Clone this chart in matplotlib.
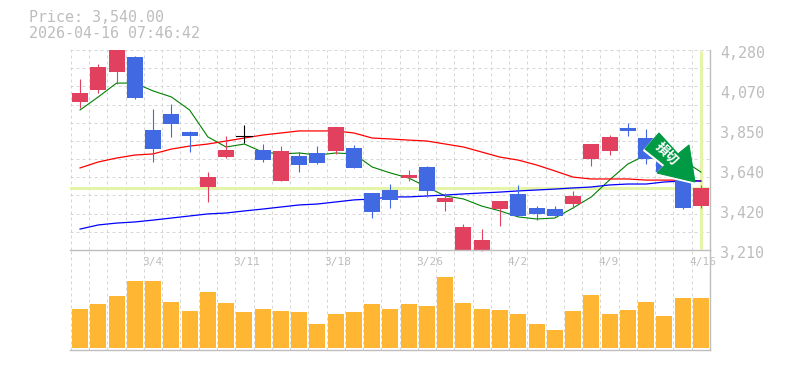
import matplotlib
matplotlib.use("Agg")
import matplotlib.pyplot as plt
from matplotlib.patches import Polygon, Rectangle

# ---- data ----
opens  = [4002, 4066, 4162, 4243, 3852, 3938, 3841, 3547, 3708, 3820, 3745, 3579, 3713, 3729, 3740, 3756, 3515, 3531, 3595, 3654, 3467, 3210, 3210, 3429, 3510, 3435, 3429, 3456, 3697, 3740, 3863, 3809, 3756, 3611, 3445]
highs  = [4125, 4205, 4280, 4248, 3964, 3991, 3847, 3627, 3820, 3879, 3777, 3766, 3734, 3766, 3868, 3772, 3515, 3563, 3638, 3659, 3515, 3349, 3322, 3472, 3558, 3445, 3445, 3526, 3777, 3825, 3889, 3857, 3800, 3638, 3558]
lows   = [3970, 4050, 4098, 4018, 3681, 3815, 3734, 3467, 3702, 3782, 3681, 3579, 3627, 3670, 3724, 3649, 3381, 3435, 3579, 3494, 3419, 3210, 3205, 3338, 3392, 3370, 3392, 3435, 3659, 3718, 3820, 3670, 3611, 3429, 3435]
closes = [4050, 4189, 4280, 4023, 3750, 3884, 3820, 3601, 3745, 3820, 3692, 3740, 3665, 3675, 3868, 3649, 3413, 3478, 3611, 3526, 3488, 3333, 3264, 3472, 3392, 3403, 3392, 3499, 3777, 3815, 3847, 3697, 3627, 3435, 3540]
ma_short = [3959, 4029, 4103, 4103, 4061, 4029, 3959, 3815, 3761, 3777, 3734, 3724, 3729, 3718, 3729, 3724, 3654, 3622, 3595, 3547, 3499, 3483, 3445, 3419, 3387, 3376, 3381, 3435, 3494, 3585, 3670, 3718, 3745, 3692, 3627]
ma_mid = [3649, 3681, 3702, 3718, 3724, 3750, 3766, 3777, 3793, 3809, 3825, 3836, 3847, 3847, 3847, 3836, 3809, 3804, 3798, 3793, 3777, 3761, 3734, 3707, 3691, 3665, 3633, 3600, 3590, 3590, 3590, 3584, 3584, 3584, 3579]
ma_long = [3322, 3344, 3354, 3360, 3370, 3381, 3392, 3403, 3408, 3419, 3429, 3440, 3451, 3456, 3467, 3478, 3483, 3494, 3494, 3499, 3504, 3510, 3515, 3520, 3526, 3531, 3536, 3542, 3547, 3558, 3563, 3563, 3574, 3579, 3579]
volumes = [39, 44, 52, 67, 67, 46, 37, 56, 45, 36, 39, 37, 36, 24, 34, 36, 44, 39, 44, 42, 71, 45, 39, 38, 34, 24, 18, 37, 53, 34, 38, 46, 32, 50, 50]
date_labels = ["3/4", "3/11", "3/18", "3/26", "4/2", "4/9", "4/16"]
date_slots = [4, 9, 14, 19, 24, 29, 34]
price_ticks = [4280, 4070, 3850, 3640, 3420, 3210]
last_price = 3540
title_lines = ["Price: 3,540.00", "2026-04-16 07:46:42"]
arrow_label = "損切"

W, H = 785, 370
RED, BLUE, ORANGE = "#E2405F", "#4169E1", "#FFB733"
GREY, GRID, HILITE = "#BDBDBD", "#D6D6D6", "#E4F5A9"
MONO = ["DejaVu Sans Mono", "Liberation Mono"]

fig = plt.figure(figsize=(W / 100, H / 100), dpi=100, facecolor="white")
def rect(l, t, r, b):
    return [l / W, 1 - b / H, (r - l) / W, (b - t) / H]

ax = fig.add_axes(rect(70, 50, 710, 250))
vx = fig.add_axes(rect(70, 250, 710, 350))
xmin, xmax = -0.55, 34.5
PX = (xmax - xmin) / 640
for a in (ax, vx):
    a.set_xlim(xmin, xmax)
    a.set_facecolor("none")
    a.set_xticks([])
    a.set_yticks([])
    for s in a.spines.values():
        s.set_visible(False)
ax.set_ylim(3210, 4280)
vx.set_ylim(-2, 98)

n = len(closes)
dash = (0, (3, 3))
for i in range(n + 1):
    for a in (ax, vx):
        a.axvline(i - 0.5, color=GRID, lw=0.72, ls=dash, zorder=0)
for k in range(12):
    ax.axhline(3210 + k * (4280 - 3210) / 11, color=GRID, lw=0.72, ls=dash, zorder=0)

ax.axhline(last_price, color=HILITE, lw=2.2, zorder=1)
ax.plot([n - 1, n - 1], [3216, 4275], color=HILITE, lw=2.2, zorder=1, solid_capstyle="butt")

xs = list(range(n))
ax.plot(xs, ma_short, color="green", lw=0.8, zorder=2)
ax.plot(xs, ma_mid, color="red", lw=0.9, zorder=2)
ax.plot(xs, ma_long, color="blue", lw=0.9, zorder=2)

body_w = 16 * PX
for i in range(n):
    o, h, l, c = opens[i], highs[i], lows[i], closes[i]
    col = RED if c > o else BLUE
    if abs(c - o) < 3:
        col = "black"
    ax.plot([i, i], [l, h], color=col, lw=0.8, zorder=3, solid_capstyle="butt", clip_on=False)
    if col == "black":
        ax.plot([i - 8 * PX, i + 8 * PX], [c, c], color=col, lw=0.8, zorder=3)
    else:
        ax.add_patch(Rectangle((i - body_w / 2, min(o, c)), body_w, abs(c - o), color=col, lw=0, zorder=3))

vx.bar(xs, volumes, width=body_w, color=ORANGE, lw=0, zorder=2)

# frame
ax.plot([xmin, xmax], [3210, 3210], color=GREY, lw=1.0, zorder=4, clip_on=False)
vx.plot([xmin, xmax], [-2, -2], color=GREY, lw=1.0, zorder=4, clip_on=False)
vx.plot([xmax, xmax], [-2, 98], color=GREY, lw=1.0, zorder=4, clip_on=False)
ax.plot([xmax, xmax], [3210, 4280], color=GREY, lw=1.0, zorder=4, clip_on=False)

# labels
for v, y in zip(price_ticks, [53.5, 93.5, 133.5, 173.5, 213.5, 253.5]):
    fig.text(720 / W, 1 - y / H, f"{v:,}", color=GREY, fontsize=10.8, family=MONO, va="center", ha="left")
for s, i in zip(date_labels, date_slots):
    vx.annotate(s, xy=(i, 98), xytext=(-11, -12), textcoords="offset pixels", color=GREY,
                fontsize=8.0, family=MONO, ha="left", va="center", annotation_clip=False)
for s, y in zip(title_lines, [18, 33]):
    fig.text(29 / W, 1 - y / H, s, color=GREY, fontsize=10.8, family=MONO, va="center", ha="left")

# sell-signal arrow, in figure pixels
pts = [(659, 133), (645, 149), (665, 165), (657, 173), (695, 182), (689, 145), (678, 154)]
shadow = [(x - 1.5, y + 1.5) for x, y in pts]
for poly, col in ((shadow, "white"), (pts, "#009944")):
    fig.add_artist(Polygon([(x / W, 1 - y / H) for x, y in poly], closed=True, transform=fig.transFigure,
                           fc=col, ec=col, lw=0.8, zorder=10, joinstyle="miter"))
fig.text(667 / W, 1 - 154 / H, arrow_label, color="white", fontsize=9.5, rotation=-45, rotation_mode="anchor",
         ha="center", va="center", weight="bold", family=["Noto Sans CJK JP", "DejaVu Sans"], zorder=11)

fig.savefig("out.png", dpi=100, facecolor="white")
